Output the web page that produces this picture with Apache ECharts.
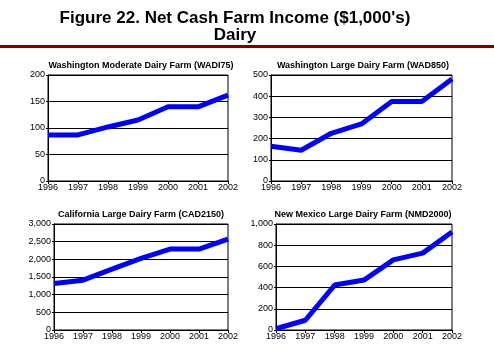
<!DOCTYPE html>
<html>
<head>
<meta charset="utf-8">
<script src="https://cdn.jsdelivr.net/npm/echarts@6/dist/echarts.min.js"></script>
<style>
html, body { margin: 0; padding: 0; background: #fff; }
#chart { width: 494px; height: 352px; }
</style>
</head>
<body>
<div id="chart"></div>
<script>
// years shared by all four panels
var years = ['1996', '1997', '1998', '1999', '2000', '2001', '2002'];

// net cash farm income, $1,000's
var wadi75 = [87, 87, 102, 115, 140, 140, 162];
var wad850 = [164, 145, 225, 269, 375, 375, 481];
var cad2150 = [1315, 1410, 1722, 2025, 2290, 2290, 2573];
var nmd2000 = [12, 92, 424, 471, 661, 725, 924];

var panelTitles = [
    'Washington Moderate Dairy Farm (WADI75)',
    'Washington Large Dairy Farm (WAD850)',
    'California Large Dairy Farm (CAD2150)',
    'New Mexico Large Dairy Farm (NMD2000)'
];
var panelData = [wadi75, wad850, cad2150, nmd2000];
var yMax = [200, 500, 3000, 1000];
var yStep = [50, 100, 500, 200];

// grid boxes in pixels, plus where each panel title is centred
var boxes = [
    { left: 48, top: 75, width: 180, height: 106, tx: 136 },
    { left: 271, top: 75, width: 181, height: 106, tx: 358 },
    { left: 54, top: 224, width: 174, height: 106, tx: 136 },
    { left: 276, top: 224, width: 176, height: 106, tx: 358 }
];

var font = 'Arial, "Liberation Sans", sans-serif';

var grids = [], xAxes = [], yAxes = [], series = [];
var titles = [{
    text: "Figure 22. Net Cash Farm Income ($1,000's)\nDairy",
    left: 230, top: 5, textAlign: 'center',
    textStyle: { fontFamily: font, fontSize: 17, fontWeight: 'bold', color: '#000', lineHeight: 17 }
}];

for (var i = 0; i < 4; i++) {
    var b = boxes[i];
    grids.push({
        left: b.left, top: b.top, width: b.width, height: b.height,
        show: true, borderColor: '#000', borderWidth: 1, backgroundColor: 'transparent'
    });
    titles.push({
        text: panelTitles[i],
        left: b.tx, top: b.top - 19, textAlign: 'center',
        textStyle: { fontFamily: font, fontSize: 9, fontWeight: 'bold', color: '#000' }
    });
    xAxes.push({
        type: 'category', gridIndex: i, data: years, boundaryGap: false,
        axisLine: { lineStyle: { color: '#000', width: 1 } },
        axisTick: { length: 3, lineStyle: { color: '#000' } },
        axisLabel: { fontFamily: font, fontSize: 9, color: '#000', margin: 2 },
        splitLine: { show: false }
    });
    yAxes.push({
        type: 'value', gridIndex: i, min: 0, max: yMax[i], interval: yStep[i],
        axisLine: { show: true, lineStyle: { color: '#000', width: 1 } },
        axisTick: { show: true, length: 2, lineStyle: { color: '#000' } },
        axisLabel: {
            fontFamily: font, fontSize: 9, color: '#000', margin: 3,
            formatter: function (v) { return v.toLocaleString('en-US'); }
        },
        splitLine: { show: true, lineStyle: { color: '#000', width: 1 } }
    });
    series.push({
        type: 'line', xAxisIndex: i, yAxisIndex: i, data: panelData[i],
        symbol: 'none', lineStyle: { color: '#0000ff', width: 5 }
    });
}

var chart = echarts.init(document.getElementById('chart'));
chart.setOption({
    animation: false,
    backgroundColor: '#fff',
    title: titles,
    grid: grids,
    xAxis: xAxes,
    yAxis: yAxes,
    series: series,
    graphic: [{
        type: 'rect', shape: { x: 0, y: 45, width: 494, height: 3 },
        style: { fill: '#800000' }
    }]
});
</script>
</body>
</html>
